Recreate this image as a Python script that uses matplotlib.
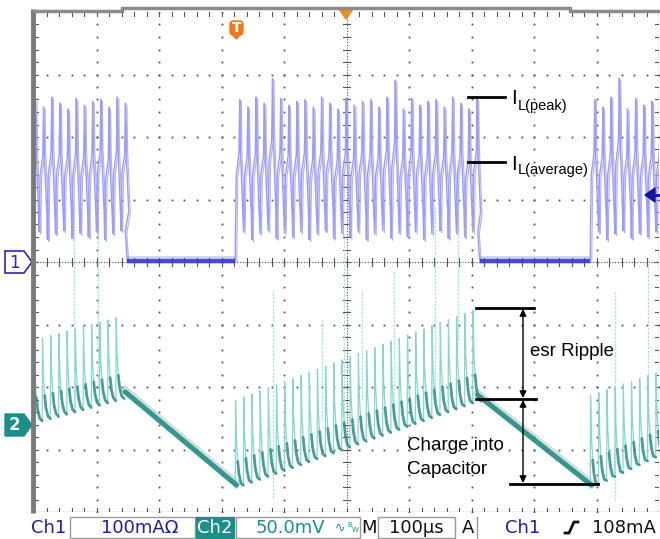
import numpy as np
import matplotlib
matplotlib.use('Agg')
import matplotlib.pyplot as plt
from matplotlib.patches import Polygon, Rectangle, FancyBboxPatch

# ---------------- data (screen divisions: x 0-10 @100us/div, y 0-8) -------------
ch1_burst_start = [-0.05, 3.22, 8.90]
ch1_burst_end = [1.46, 7.10, 10.08]
ch1_period = 0.131
ch1_peak = 6.60
ch1_trough = 4.40
ch1_idle = 4.02
ch1_peak_pattern = [0.0, -0.12, 0.04, -0.06, -0.15, 0.02, -0.09, -0.03]
ch1_trough_pattern = [0.0, 0.08, -0.04, 0.05, 0.10, -0.02, 0.06]
ch1_tall_t = [3.82, 5.74, 9.30]
ch1_tall_v = [6.94, 6.91, 6.94]

ch2_base_start = [1.47, 0.43, 0.43]
ch2_base_end = [1.87, 1.82, 0.99]
ch2_spike_start = [1.28, 1.36, 1.44]
ch2_spike_end = [1.28, 1.44, 1.28]

glitch_t = [0.64, 1.02, 3.82, 4.61, 4.96, 5.25, 5.76, 6.42, 6.78, 9.30, 9.82]
glitch_top = [4.99, 5.44, 3.55, 3.07, 4.46, 3.55, 3.87, 4.88, 5.55, 3.55, 4.03]
glitch_bot = [1.79, 1.95, 0.22, 1.47, 1.47, 1.79, 1.47, 1.79, 2.75, 0.19, 1.47]

status_labels = ["Ch1", "100mA\u03a9", "Ch2", "50.0mV", "M", "100\u00b5s", "A", "Ch1", "108mA"]

# ---------------- figure ------------------------------------------------------
W, H = 660, 539
X0, X1, Y0, Y1 = 34, 659, 12, 512
fig = plt.figure(figsize=(W / 100, H / 100), dpi=100)
fig.patch.set_facecolor('white')

ax = fig.add_axes([X0 / W, 1 - Y1 / H, (X1 - X0) / W, (Y1 - Y0) / H])
ax.set_xlim(0, 10)
ax.set_ylim(0, 8)
ax.axis('off')

ov = fig.add_axes([0, 0, 1, 1], zorder=5)
ov.set_xlim(0, W)
ov.set_ylim(H, 0)
ov.axis('off')
ov.patch.set_alpha(0)

GRID = '#555555'
# grid dots
for i in range(1, 10):
    if i == 5:
        continue
    yy = np.arange(0, 8.01, 0.2)
    ax.plot(np.full_like(yy, i), yy, ls='none', marker='s', ms=1.3, color=GRID, mew=0, zorder=1)
for j in range(1, 8):
    if j == 4:
        continue
    xx = np.arange(0, 10.01, 0.2)
    ax.plot(xx, np.full_like(xx, j), ls='none', marker='s', ms=1.3, color=GRID, mew=0, zorder=1)
# center cross with ticks
ax.plot([5, 5], [0, 8], ls=(0, (1, 1.5)), lw=0.8, color=GRID, zorder=1)
ax.plot([0, 10], [4, 4], ls=(0, (1, 1.5)), lw=0.8, color=GRID, zorder=1)
for y in np.arange(0, 8.01, 0.2):
    ax.plot([4.94, 5.06], [y, y], lw=0.8, color=GRID, zorder=1)
for x in np.arange(0, 10.01, 0.2):
    ax.plot([x, x], [3.93, 4.07], lw=0.8, color=GRID, zorder=1)
# edge ticks
for x in np.arange(0, 10.01, 0.2):
    ax.plot([x, x], [7.93, 8.0], lw=0.8, color=GRID, zorder=1)
    ax.plot([x, x], [0.0, 0.07], lw=0.8, color=GRID, zorder=1)
for y in np.arange(0, 8.01, 0.2):
    ax.plot([0, 0.06], [y, y], lw=0.8, color=GRID, zorder=1)
    ax.plot([9.94, 10], [y, y], lw=0.8, color=GRID, zorder=1)
# borders
ax.plot([0, 10], [0, 0], ls=(0, (1, 1)), lw=1.0, color='#777777', zorder=1)
ax.plot([10, 10], [0, 8], ls=(0, (1, 1)), lw=1.0, color='#777777', zorder=1)
ov.plot([32.5, 32.5], [9, 513], lw=3.5, color='#7a7a7a', solid_capstyle='butt')
ov.plot([34, 122], [10.5, 10.5], lw=2.5, color='#8a8a8a')
ov.plot([122, 570], [8, 8], lw=2.5, color='#8a8a8a')
ov.plot([570, 660], [10.5, 10.5], lw=2.5, color='#8a8a8a')

# ---------------- channel 1 (inductor current) --------------------------------
P = ch1_period
CH1_LIGHT = '#9c9cf2'
CH1_DARK = '#3434d6'
for b, (s, e) in enumerate(zip(ch1_burst_start, ch1_burst_end)):
    ts, vs = [], []
    if b > 0:
        ts += [s]
        vs += [ch1_idle]
    t = s
    n = 0
    while t < e - 0.02:
        pk = ch1_peak + ch1_peak_pattern[n % len(ch1_peak_pattern)]
        lo = ch1_trough + ch1_trough_pattern[n % len(ch1_trough_pattern)]
        for tt, v in zip(ch1_tall_t, ch1_tall_v):
            if t <= tt < t + P:
                pk = v
        h = pk - lo
        ts += [t + 0.02 * P, t + 0.12 * P, t + 0.45 * P, t + 0.55 * P, t + 0.62 * P, t + 0.95 * P]
        vs += [lo, lo + 0.45 * h, lo + 0.6 * h, pk, pk - 0.35 * h, lo + 0.15 * h]
        t += P
        n += 1
    ts += [e, e + 0.03]
    vs += [lo, ch1_idle]
    ts = np.array(ts)
    vs = np.array(vs)
    ax.plot(ts, vs, color=CH1_LIGHT, lw=1.0, zorder=3)
    ax.plot(ts + 0.025, vs - 0.03, color=CH1_LIGHT, lw=0.8, alpha=0.8, zorder=3)
    if b < len(ch1_burst_start) - 1:
        ns = ch1_burst_start[b + 1]
        ax.plot([e + 0.03, ns], [ch1_idle, ch1_idle], color=CH1_DARK, lw=3.0, alpha=0.85,
                solid_capstyle='butt', zorder=4)
        ax.plot([e + 0.03, ns], [ch1_idle + 0.02, ch1_idle + 0.02], color='#7070e8', lw=5.5,
                alpha=0.35, solid_capstyle='butt', zorder=3)

# ---------------- channel 2 (output ripple) -----------------------------------
CH2_LIGHT = '#86d6d2'
CH2_DARK = '#2a8c84'
for t, top, bot in zip(glitch_t, glitch_top, glitch_bot):
    ax.plot([t, t], [bot, top], color='#a8e4e4', lw=0.9, ls=(0, (2, 1)), zorder=2)

for b, (s, e) in enumerate(zip(ch1_burst_start, ch1_burst_end)):
    bs, be = ch2_base_start[b], ch2_base_end[b]
    hs, he = ch2_spike_start[b], ch2_spike_end[b]
    t = max(s, 0.0)
    start = t
    while t < e - 0.02:
        f = (t - start) / (e - start)
        base = bs + (be - bs) * f
        base2 = bs + (be - bs) * min(1.0, (t + P - start) / (e - start))
        h = hs + (he - hs) * f
        lt = [t, t + 0.04 * P, t + 0.14 * P, t + 0.3 * P]
        lv = [base - 0.05, base + h, base + 0.55 * h, base + 0.28 * h]
        ax.plot(lt, lv, color=CH2_LIGHT, lw=0.9, zorder=3)
        dt = [t + 0.3 * P, t + 0.45 * P, t + 0.7 * P, t + P]
        dv = [base + 0.28 * h, base + 0.13 * h, base + 0.03, base2 - 0.05]
        ax.plot(dt, dv, color=CH2_DARK, lw=2.0, alpha=0.85, zorder=4, solid_capstyle='round')
        t += P
    if b < len(ch1_burst_start) - 1:
        ns = ch1_burst_start[b + 1]
        nb = ch2_base_start[b + 1]
        ax.plot([e, ns + 0.02], [be + 0.05, nb], color=CH2_DARK, lw=3.6, alpha=0.9,
                zorder=4, solid_capstyle='round')
        ax.plot([e, ns + 0.02], [be + 0.08, nb + 0.03], color='#5fb0a8', lw=5.5, alpha=0.35,
                zorder=3)

# ---------------- annotations -------------------------------------------------
ANN = 'Liberation Sans'
ov.plot([468, 505], [97, 97], color='black', lw=2)
ov.text(511, 99, 'I', fontsize=15, family=ANN, va='center', ha='left')
ov.text(518, 106, 'L(peak)', fontsize=10.5, family=ANN, va='center', ha='left')
ov.plot([468, 505], [162, 162], color='black', lw=2)
ov.text(511, 164, 'I', fontsize=15, family=ANN, va='center', ha='left')
ov.text(518, 170, 'L(average)', fontsize=10.5, family=ANN, va='center', ha='left')

ov.plot([476, 534], [308, 308], color='black', lw=2)
ov.plot([476, 536], [399, 399], color='black', lw=2)
ov.plot([510, 598], [484, 484], color='black', lw=2)
ov.annotate('', xy=(523, 309), xytext=(523, 398),
            arrowprops=dict(arrowstyle='<|-|>', color='black', lw=1, mutation_scale=10, shrinkA=0, shrinkB=0))
ov.annotate('', xy=(523, 400), xytext=(523, 483),
            arrowprops=dict(arrowstyle='<|-|>', color='black', lw=1, mutation_scale=10, shrinkA=0, shrinkB=0))
ov.text(530, 352, 'esr Ripple', fontsize=13.5, family=ANN, va='center', ha='left')
ov.text(407, 445, 'Charge into', fontsize=13.5, family=ANN, va='center', ha='left')
ov.text(407, 470, 'Capacitor', fontsize=13.5, family=ANN, va='center', ha='left')

# ---------------- markers -----------------------------------------------------
ov.add_patch(Polygon([(5, 251), (24, 251), (32, 262), (24, 273), (5, 273)], closed=True,
                     facecolor='white', edgecolor='#2a2ab8', lw=1.2))
ov.text(14.5, 262.5, '1', fontsize=12, color='#2a2ab8', ha='center', va='center', family='DejaVu Sans')
ov.add_patch(Polygon([(5, 414), (24, 414), (32, 425), (24, 436), (5, 436)], closed=True,
                     facecolor='#1a8f88', edgecolor='#1a8f88', lw=1))
ov.text(14.5, 425.5, '2', fontsize=12, color='white', ha='center', va='center', family='DejaVu Sans',
        fontweight='bold')
ov.add_patch(FancyBboxPatch((230, 21), 13, 14, boxstyle='round,pad=0,rounding_size=3',
                            facecolor='#f07a1a', edgecolor='#f07a1a'))
ov.add_patch(Polygon([(232, 34), (241, 34), (236.5, 39)], closed=True, facecolor='#f07a1a',
                     edgecolor='#f07a1a'))
ov.text(236.5, 28.5, 'T', fontsize=10, color='white', ha='center', va='center', fontweight='bold',
        family='DejaVu Sans')
ov.add_patch(Polygon([(339, 9), (353, 9), (346, 19)], closed=True, facecolor='#f58a1e',
                     edgecolor='#f58a1e'))
ov.add_patch(Polygon([(645, 195), (655, 188), (655, 202)], closed=True, facecolor='#14149c',
                     edgecolor='#14149c'))
ov.plot([654, 659], [195, 195], color='#14149c', lw=2)

# ---------------- status bar --------------------------------------------------
SB = 'DejaVu Sans'
BLUE = '#1c1ca6'
TEAL = '#1a8f88'
yb = 528
FS = 13
ov.text(49, yb, status_labels[0], fontsize=FS, color=BLUE, ha='center', va='center', family=SB)
ov.add_patch(Rectangle((70, 517), 125, 21, facecolor='white', edgecolor='#9a9a9a', lw=1))
ov.text(140, yb, status_labels[1], fontsize=FS, color=BLUE, ha='center', va='center', family=SB)
ov.add_patch(Rectangle((196, 517), 38, 21, facecolor=TEAL, edgecolor=TEAL, lw=1))
ov.text(215, yb, status_labels[2], fontsize=FS, color='white', ha='center', va='center', family=SB)
ov.add_patch(Rectangle((236, 517), 124, 21, facecolor='white', edgecolor='#9a9a9a', lw=1))
ov.text(290, yb, status_labels[3], fontsize=FS, color=TEAL, ha='center', va='center', family=SB)
ov.text(340, yb, '\u223f', fontsize=9, color=TEAL, ha='center', va='center', family=SB)
ov.text(350, yb - 3, 'B', fontsize=5, color=TEAL, ha='center', va='center', family=SB)
ov.text(355.5, yb + 2, 'W', fontsize=5, color=TEAL, ha='center', va='center', family=SB)
ov.text(369, yb, status_labels[4], fontsize=FS, color='#111111', ha='center', va='center', family=SB)
ov.add_patch(Rectangle((378, 517), 77, 21, facecolor='white', edgecolor='#9a9a9a', lw=1))
ov.text(416, yb, status_labels[5], fontsize=FS, color='#111111', ha='center', va='center', family=SB)
ov.text(468, yb, status_labels[6], fontsize=FS, color='#111111', ha='center', va='center', family=SB)
ov.plot([477, 477], [517, 538], color='#9a9a9a', lw=1)
ov.text(523, yb, status_labels[7], fontsize=FS, color=BLUE, ha='center', va='center', family=SB)
ov.plot([565, 569, 574, 578], [533, 533, 522, 522], color='#111111', lw=2)
ov.text(624, yb, status_labels[8], fontsize=FS, color='#111111', ha='center', va='center', family=SB)

fig.savefig('out.png', dpi=100, facecolor='white')
